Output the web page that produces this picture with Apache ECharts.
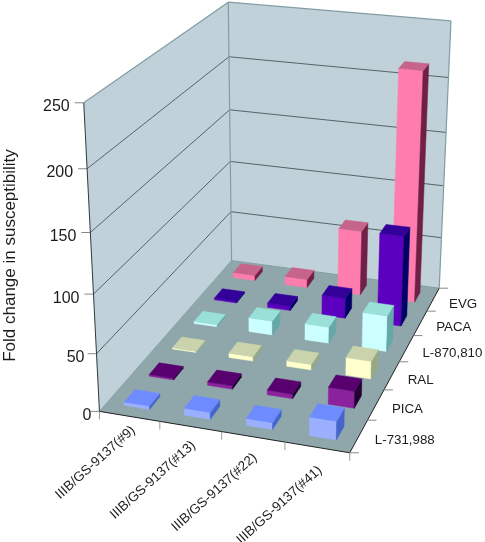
<!DOCTYPE html>
<html><head><meta charset="utf-8">
<script src="https://cdn.jsdelivr.net/npm/echarts@6/dist/echarts.min.js"></script>
<style>html,body{margin:0;padding:0;background:#fff}#c{width:485px;height:542px}</style>
</head><body><div id="c"></div>
<script>
var strains = ['IIIB/GS-9137(#9)','IIIB/GS-9137(#13)','IIIB/GS-9137(#22)','IIIB/GS-9137(#41)'];
var inhibitors = ['L-731,988','PICA','RAL','L-870,810','PACA','EVG'];
var valueTicks = [0,50,100,150,200,250];
var L731988 = [3,6,6,16];
var PICA = [1.5,3,4,15];
var RAL = [1,4,5,16];
var L870810 = [2,13,15,33];
var PACA = [1.5,4,19,84];
var EVG = [5,8,62,215];
var seriesValues = [L731988,PICA,RAL,L870810,PACA,EVG];

var frontColors = ['#9AB0FF','#8A229E','#FFFFCC','#CCFFFF','#5A00BE','#FF7DAE'];
var topColors   = ['#6E8CFF','#57006E','#C9D4AC','#99E0D8','#33009A','#C6648C'];
var sideColors  = ['#4466CC','#220033','#98A880','#66A8A8','#000066','#701F45'];
var wallColor='#C0D1D9', floorColor='#8FA6AB', edgeColor='#7F9DA3', gridColor='#3c464a', textColor='#1c1c1c';
var barFraction=0.42;

// Calibration of the 3D box: [u,v,w] box corner -> pixel position on the page
var calib = [
 [0,0,0, 99,411],[1,0,0, 350,453],[1,1,0, 439,288],[0,1,0, 232,261],
 [0,0,1, 84,103],[0,1,1, 228,2],[1,1,1, 451,21]
];
// label nudges (style only)
var strainLabelDx=[-1,-2,-3,-2], strainLabelDy=[12,17,19,21];
function solve(A,b){var n=b.length,M=A.map(function(r,i){return r.concat([b[i]])});
 for(var i=0;i<n;i++){var p=i;for(var k=i+1;k<n;k++)if(Math.abs(M[k][i])>Math.abs(M[p][i]))p=k;
  var t=M[i];M[i]=M[p];M[p]=t;
  for(k=i+1;k<n;k++){var f=M[k][i]/M[i][i];for(var j=i;j<=n;j++)M[k][j]-=f*M[i][j];}}
 var x=new Array(n);for(i=n-1;i>=0;i--){var s=M[i][n];for(j=i+1;j<n;j++)s-=M[i][j]*x[j];x[i]=s/M[i][i];}
 return x;}
var P=(function(){var rows=[],rhs=[];
 calib.forEach(function(c){var u=c[0],v=c[1],w=c[2],X=c[3],Y=c[4];
  rows.push([u,v,w,1,0,0,0,0,-X*u,-X*v,-X*w]);rhs.push(X);
  rows.push([0,0,0,0,u,v,w,1,-Y*u,-Y*v,-Y*w]);rhs.push(Y);});
 var A=[],b=[];for(var i=0;i<11;i++){A.push([]);var s=0;
  for(var j=0;j<11;j++){var t=0;for(var k=0;k<rows.length;k++)t+=rows[k][i]*rows[k][j];A[i].push(t+(i==j?1e-9:0));}
  for(k=0;k<rows.length;k++)s+=rows[k][i]*rhs[k];b.push(s);}
 return solve(A,b);})();
function proj(u,v,w){var d=P[8]*u+P[9]*v+P[10]*w+1;
 return [(P[0]*u+P[1]*v+P[2]*w+P[3])/d,(P[4]*u+P[5]*v+P[6]*w+P[7])/d];}

function poly(pts,fill,stroke,lw){return {type:'polygon',silent:true,shape:{points:pts},style:{fill:fill,stroke:stroke||fill,lineWidth:lw==null?0.5:lw}};}
function line(a,b,c,lw){return {type:'line',silent:true,shape:{x1:a[0],y1:a[1],x2:b[0],y2:b[1]},style:{stroke:c,lineWidth:lw||1}};}
function txt(t,x,y,font,align,rot){return {type:'text',silent:true,x:x,y:y,rotation:rot||0,style:{text:t,x:0,y:0,font:font,fill:textColor,align:align,verticalAlign:'middle'}};}

var GW=400,GH=250;
function renderFrame(){
 var ch=[];
 ch.push(poly([proj(0,0,0),proj(0,1,0),proj(0,1,1),proj(0,0,1)],wallColor,wallColor,0));
 ch.push(poly([proj(0,1,0),proj(1,1,0),proj(1,1,1),proj(0,1,1)],wallColor,wallColor,0));
 ch.push(poly([proj(0,0,0),proj(1,0,0),proj(1,1,0),proj(0,1,0)],floorColor,floorColor,0));
 valueTicks.forEach(function(t){var w=t/250;
  if(t>0&&t<250){ch.push(line(proj(0,0,w),proj(0,1,w),gridColor,0.8));ch.push(line(proj(0,1,w),proj(1,1,w),gridColor,0.8));}
  var a=proj(0,0,w);
  ch.push(line([a[0]-9,a[1]],a,'#888',1));
  var dx=t==0?-8:(t==50?-12:-14);
  ch.push(txt(String(t),a[0]+dx,a[1]+4,'16px "Liberation Sans"','right'));
 });
 ch.push(line(proj(0,0,1),proj(0,1,1),edgeColor,1.2));
 ch.push(line(proj(0,1,1),proj(1,1,1),edgeColor,1.2));
 ch.push(line(proj(1,1,1),proj(1,1,0),edgeColor,1.2));
 ch.push(line(proj(0,1,1),proj(0,1,0),edgeColor,1.2));
 ch.push(line(proj(0,1,0),proj(0,0,0),edgeColor,1));
 ch.push(line(proj(0,1,0),proj(1,1,0),edgeColor,1));
 ch.push(line(proj(0,0,1),proj(0,0,0),'#2e3a3e',1));
 ch.push(line(proj(0,0,0),proj(1,0,0),'#222',1));
 ch.push(line(proj(1,0,0),proj(1,1,0),'#222',1));
 strains.forEach(function(s,i){
  var a=proj(i/4,0,0);ch.push(line(a,[a[0],a[1]+8],'#999',1));
  var m=proj((i+.5)/4,0,0);
  ch.push(txt(s,m[0]+5+strainLabelDx[i],m[1]+strainLabelDy[i],'13.5px "Liberation Sans"','right',42*Math.PI/180));
 });
 var e=proj(1,0,0);ch.push(line(e,[e[0],e[1]+8],'#999',1));
 inhibitors.forEach(function(s,i){
  var a=proj(1,i/6,0);ch.push(line(a,[a[0]+9,a[1]],'#888',1));
  var m=proj(1,(i+.5)/6,0);
  ch.push(txt(s,m[0]+16,m[1]+4.5,'13.3px "Liberation Sans"','left'));
 });
 var t=proj(1,1,0);ch.push(line(t,[t[0]+9,t[1]],'#888',1));
 ch.push(txt('Fold change in susceptibility',10.5,255.5,'17px "Liberation Sans"','center',Math.PI/2));
 return {type:'group',children:ch};
}
function renderBar(row,params,api){
 var c=api.coord([api.value(0),api.value(1)]);
 var band=api.size([1,0])[0];
 var uc=c[0]/GW, du=barFraction*band/GW/2, w=(GH-c[1])/GH;
 var vc=(row+.5)/6, dv=barFraction/6/2;
 var u0=uc-du,u1=uc+du,v0=vc-dv,v1=vc+dv;
 var A=proj(u0,v0,0),B=proj(u1,v0,0),C=proj(u1,v1,0);
 var a=proj(u0,v0,w),b=proj(u1,v0,w),cc=proj(u1,v1,w),d=proj(u0,v1,w);
 return {type:'group',children:[
  poly([A,B,b,a],frontColors[row]),
  poly([B,C,cc,b],sideColors[row]),
  poly([a,b,cc,d],topColors[row])
 ]};
}
var series=[{type:'custom',name:'frame',coordinateSystem:'none',data:[0],renderItem:renderFrame,silent:true,z:1}];
for(var r=5;r>=0;r--){(function(row){
 series.push({type:'custom',name:inhibitors[row],coordinateSystem:'cartesian2d',clip:false,silent:true,z:2,
  encode:{x:0,y:1},
  data:seriesValues[row].map(function(v,i){return [i,v];}),
  renderItem:function(p,a){return renderBar(row,p,a);}});
})(r);}
var chart=echarts.init(document.getElementById('c'),null,{renderer:'canvas'});
chart.setOption({animation:false,backgroundColor:'#fff',tooltip:{show:false},
 grid:{left:0,top:0,width:GW,height:GH,containLabel:false},
 xAxis:{type:'category',data:strains,show:false,boundaryGap:true},
 yAxis:{type:'value',min:0,max:250,interval:50,show:false},
 series:series});
</script></body></html>
